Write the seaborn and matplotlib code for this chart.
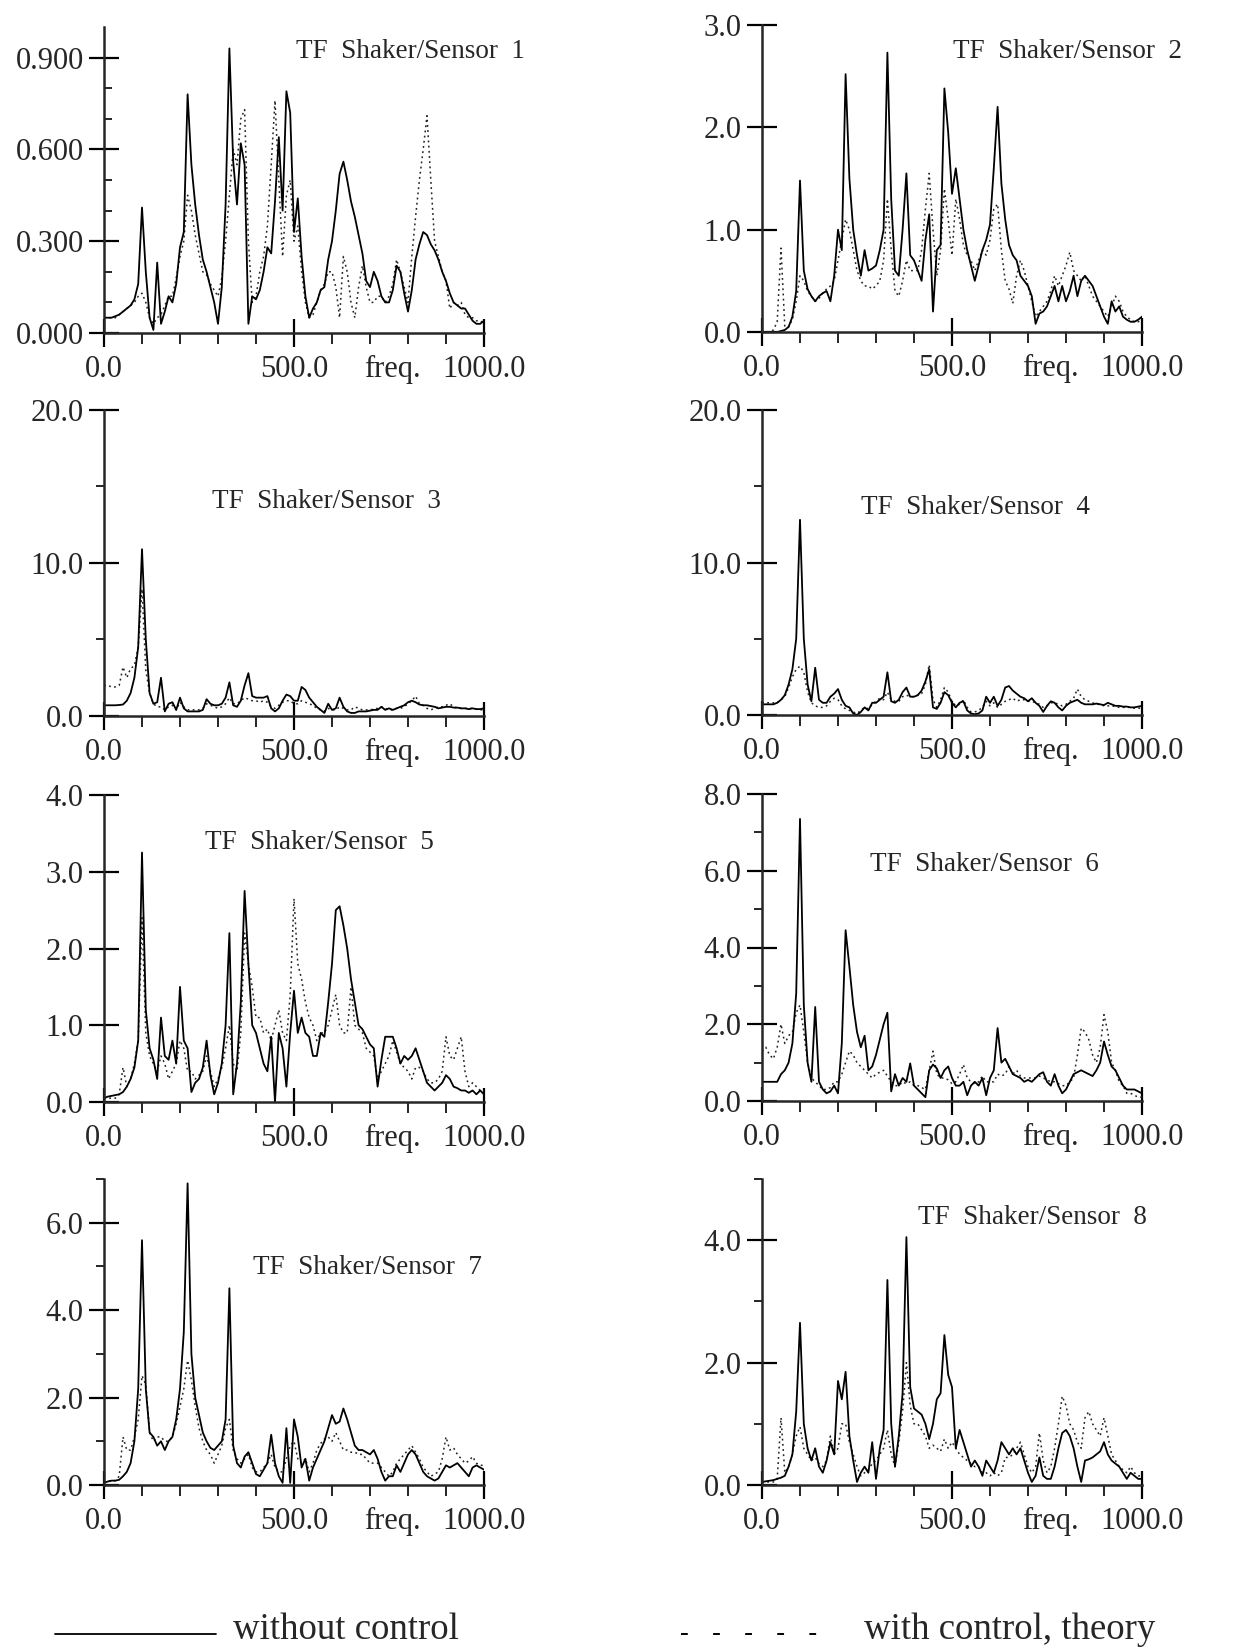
import matplotlib
matplotlib.use("Agg")
import matplotlib.pyplot as plt
import seaborn as sns
import pandas as pd
from matplotlib.lines import Line2D
from matplotlib.ticker import FixedLocator

# ---------------- data (frequency grid in Hz, 10 Hz steps) ----------------
FREQ = list(range(0, 1001, 10))

S1 = [0.05, 0.05, 0.05, 0.055, 0.06, 0.07, 0.08, 0.09, 0.11, 0.16,
      0.41, 0.2, 0.05, 0.01, 0.23, 0.03, 0.07, 0.12, 0.1, 0.16,
      0.28, 0.33, 0.78, 0.55, 0.42, 0.32, 0.24, 0.2, 0.15, 0.1,
      0.03, 0.15, 0.42, 0.93, 0.56, 0.42, 0.62, 0.55, 0.03, 0.12,
      0.11, 0.14, 0.2, 0.28, 0.26, 0.43, 0.64, 0.4, 0.79, 0.72,
      0.33, 0.44, 0.25, 0.12, 0.05, 0.08, 0.1, 0.14, 0.15, 0.24,
      0.3, 0.4, 0.52, 0.56, 0.5, 0.43, 0.38, 0.32, 0.26, 0.17,
      0.15, 0.2, 0.17, 0.12, 0.1, 0.1, 0.14, 0.22, 0.2, 0.13,
      0.07, 0.14, 0.24, 0.29, 0.33, 0.32, 0.29, 0.27, 0.24, 0.2,
      0.17, 0.13, 0.1, 0.09, 0.08, 0.08, 0.06, 0.04, 0.03, 0.03,
      0.04]
C1 = [0.05, 0.05, 0.05, 0.05, 0.06, 0.07, 0.08, 0.09, 0.1, 0.12,
      0.13, 0.1, 0.05, 0.03, 0.05, 0.06, 0.09, 0.12, 0.12, 0.18,
      0.25, 0.3, 0.45, 0.4, 0.32, 0.26, 0.2, 0.19, 0.16, 0.14,
      0.12, 0.18, 0.3, 0.45, 0.6, 0.55, 0.7, 0.73, 0.3, 0.1,
      0.12, 0.2, 0.25, 0.35, 0.55, 0.76, 0.5, 0.25, 0.45, 0.5,
      0.3, 0.35, 0.2, 0.1, 0.05, 0.06, 0.1, 0.14, 0.16, 0.2,
      0.2, 0.15, 0.05, 0.25, 0.2, 0.1, 0.05, 0.15, 0.22, 0.15,
      0.1, 0.1, 0.12, 0.12, 0.1, 0.12, 0.16, 0.24, 0.2, 0.15,
      0.1, 0.25, 0.38, 0.5, 0.6, 0.71, 0.5, 0.3, 0.25, 0.2,
      0.17, 0.08, 0.1, 0.09, 0.1, 0.06, 0.05, 0.05, 0.04, 0.04,
      0.03]

S2 = [0.0, 0.0, 0.0, 0.0, 0.0, 0.01, 0.02, 0.05, 0.15, 0.4,
      1.48, 0.6, 0.42, 0.35, 0.3, 0.35, 0.38, 0.4, 0.3, 0.55,
      1.0, 0.8, 2.52, 1.5, 1.0, 0.75, 0.55, 0.8, 0.6, 0.62,
      0.65, 0.8, 1.0, 2.73, 1.3, 0.6, 0.55, 1.0, 1.55, 0.75,
      0.7, 0.6, 0.5, 0.9, 1.15, 0.2, 0.8, 0.85, 2.38, 1.95,
      1.35, 1.6, 1.3, 1.0, 0.8, 0.65, 0.5, 0.65, 0.8, 0.9,
      1.05, 1.6, 2.2, 1.45, 1.1, 0.85, 0.75, 0.7, 0.55, 0.5,
      0.45, 0.35, 0.08, 0.18, 0.2, 0.25, 0.35, 0.45, 0.3, 0.45,
      0.3, 0.4, 0.55, 0.35, 0.5, 0.55, 0.5, 0.45, 0.35, 0.25,
      0.15, 0.08, 0.3, 0.2, 0.25, 0.15, 0.12, 0.1, 0.1, 0.12,
      0.15]
C2 = [0.0, 0.0, 0.0, 0.02, 0.1, 0.82, 0.05, 0.05, 0.12, 0.3,
      0.55, 0.5, 0.4, 0.35, 0.3, 0.33, 0.38, 0.42, 0.45, 0.5,
      0.7, 0.9, 1.1, 1.0, 0.8, 0.6, 0.5, 0.45, 0.45, 0.42,
      0.45, 0.5, 0.7, 1.3, 0.8, 0.4, 0.35, 0.5, 0.7, 0.6,
      0.6, 0.6, 0.8, 1.2, 1.55, 1.0, 0.55, 0.8, 1.4, 1.1,
      0.75, 1.3, 1.1, 0.85, 0.75, 0.7, 0.6, 0.7, 0.8, 0.75,
      0.9, 1.2, 1.25, 0.8, 0.5, 0.42, 0.28, 0.55, 0.7, 0.6,
      0.45, 0.3, 0.15, 0.2, 0.25, 0.3, 0.4, 0.55, 0.45, 0.55,
      0.65, 0.78, 0.6, 0.55, 0.5, 0.55, 0.45, 0.35, 0.3, 0.25,
      0.2, 0.15, 0.25, 0.35, 0.3, 0.2, 0.15, 0.12, 0.1, 0.1,
      0.12]

S3 = [0.7, 0.7, 0.7, 0.7, 0.72, 0.75, 1.0, 1.5, 2.5, 4.5,
      10.9, 5.0, 1.5, 0.8, 0.9, 2.5, 0.3, 0.8, 0.9, 0.4,
      1.2, 0.5, 0.3, 0.3, 0.3, 0.3, 0.4, 1.1, 0.8, 0.7,
      0.7, 0.8, 1.2, 2.2, 0.7, 0.6, 1.0, 2.0, 2.8, 1.3,
      1.2, 1.2, 1.2, 1.3, 0.5, 0.3, 0.5, 1.0, 1.4, 1.3,
      1.0, 1.0, 1.9, 1.7, 1.2, 0.9, 0.6, 0.4, 0.2, 0.8,
      0.4, 0.5, 1.2, 0.6, 0.3, 0.2, 0.2, 0.3, 0.3, 0.3,
      0.35, 0.4, 0.4, 0.6, 0.4, 0.5, 0.4, 0.5, 0.6, 0.7,
      0.9, 1.0, 0.9, 0.75, 0.7, 0.7, 0.65, 0.6, 0.5, 0.55,
      0.6, 0.6, 0.55, 0.55, 0.5, 0.5, 0.45, 0.5, 0.45, 0.45,
      0.5]
C3 = [2.0, 2.0, 1.9, 1.9, 2.0, 3.2, 2.5, 3.1, 3.3, 4.5,
      8.3, 3.0, 1.5, 0.8, 0.6, 0.6, 0.4, 0.6, 0.7, 0.4,
      0.9, 0.6, 0.4, 0.4, 0.4, 0.4, 0.5, 0.8, 0.7, 0.6,
      0.5, 0.6, 0.8, 1.2, 0.8, 0.8, 1.0, 1.2, 1.1, 1.0,
      1.0, 0.9, 1.0, 0.9, 0.6, 0.5, 0.7, 0.9, 1.0, 1.0,
      0.8, 0.8, 1.0, 0.9, 0.8, 0.7, 0.5, 0.4, 0.3, 0.5,
      0.4, 0.4, 0.6, 0.5, 0.4, 0.4, 0.6, 0.5, 0.4, 0.4,
      0.4, 0.45, 0.5, 0.6, 0.5, 0.4, 0.4, 0.5, 0.5, 0.6,
      0.8, 1.0, 1.3, 0.8, 0.7, 0.5, 0.4, 0.5, 0.6, 0.6,
      0.7, 0.8, 0.6, 0.5, 0.5, 0.5, 0.5, 0.5, 0.45, 0.4,
      0.4]

S4 = [0.7, 0.7, 0.7, 0.7, 0.8, 1.0, 1.3, 2.0, 3.0, 5.0,
      12.8, 5.0, 2.0, 0.9, 3.1, 1.0, 0.8, 0.8, 1.2, 1.4,
      1.7, 1.0, 0.6, 0.5, 0.1, 0.0, 0.2, 0.5, 0.3, 0.8,
      0.8, 1.0, 1.2, 2.8, 0.9, 0.8, 1.0, 1.5, 1.8, 1.2,
      1.2, 1.3, 1.6, 2.2, 3.0, 0.5, 0.4, 0.8, 1.5, 1.3,
      0.8, 0.5, 0.8, 0.9, 0.3, 0.1, 0.05, 0.1, 0.3, 1.2,
      0.8, 1.2, 0.6, 1.0, 1.8, 1.9, 1.6, 1.4, 1.2, 1.1,
      0.9, 1.1, 0.8, 0.6, 0.2, 0.6, 0.9, 0.8, 0.5, 0.3,
      0.6, 0.8, 0.9, 1.0, 0.8, 0.7, 0.7, 0.7, 0.75, 0.7,
      0.65, 0.8, 0.7, 0.6, 0.6, 0.55, 0.55, 0.5, 0.5, 0.55,
      0.6]
C4 = [0.8, 0.8, 0.8, 0.8, 0.8, 1.0, 1.2, 1.8, 2.5, 3.0,
      3.2, 2.8, 1.5, 0.8, 0.6, 0.5, 0.5, 0.6, 0.9, 1.1,
      1.0, 0.6, 0.4, 0.3, 0.2, 0.1, 0.3, 0.5, 0.4, 0.7,
      0.9, 1.1, 1.0, 1.5, 1.0, 0.9, 0.9, 1.2, 1.3, 1.2,
      1.2, 1.3, 1.4, 2.0, 3.3, 1.0, 0.5, 1.0, 1.8, 1.5,
      0.9, 0.6, 0.7, 1.0, 0.5, 0.2, 0.2, 0.3, 0.5, 0.9,
      0.6, 0.8, 0.5, 0.7, 0.9, 1.0, 1.1, 0.9, 1.0, 1.0,
      0.9, 0.9, 0.8, 0.7, 0.5, 0.6, 0.8, 0.8, 0.7, 0.6,
      0.7, 0.9, 1.1, 1.7, 1.2, 1.0, 0.9, 0.8, 0.7, 0.7,
      0.6, 0.6, 0.6, 0.55, 0.5, 0.5, 0.5, 0.5, 0.45, 0.45,
      0.45]

S5 = [0.05, 0.07, 0.08, 0.09, 0.1, 0.13, 0.2, 0.3, 0.45, 0.8,
      3.25, 1.2, 0.7, 0.55, 0.3, 1.1, 0.6, 0.55, 0.8, 0.5,
      1.5, 0.8, 0.7, 0.13, 0.25, 0.3, 0.45, 0.8, 0.35, 0.1,
      0.25, 0.5, 1.0, 2.2, 0.1, 0.5, 1.3, 2.75, 1.8, 1.0,
      0.9, 0.7, 0.5, 0.4, 0.85, 0.0, 0.9, 0.7, 0.2, 0.9,
      1.45, 0.9, 1.1, 0.9, 0.85, 0.6, 0.6, 0.9, 0.85, 1.3,
      1.8, 2.5, 2.55, 2.3, 2.0, 1.6, 1.3, 1.0, 0.95, 0.85,
      0.75, 0.7, 0.2, 0.55, 0.85, 0.85, 0.85, 0.7, 0.5, 0.6,
      0.55, 0.6, 0.7, 0.55, 0.4, 0.25, 0.2, 0.15, 0.2, 0.25,
      0.35, 0.3, 0.2, 0.18, 0.15, 0.15, 0.12, 0.15, 0.1, 0.15,
      0.1]
C5 = [0.05, 0.05, 0.05, 0.05, 0.1, 0.45, 0.2, 0.3, 0.5, 0.8,
      2.4, 0.9, 0.6, 0.5, 0.4, 0.6, 0.5, 0.3, 0.4, 0.5,
      0.8, 0.7, 0.4, 0.4, 0.3, 0.35, 0.4, 0.6, 0.4, 0.2,
      0.3, 0.45, 0.7, 1.0, 0.5, 0.4, 0.9, 2.2, 1.8, 1.5,
      1.1, 1.1, 0.9, 0.95, 0.8, 1.0, 1.2, 0.9, 0.8, 1.4,
      2.65, 1.8, 1.6, 1.3, 1.1, 1.0, 0.8, 0.9, 0.9, 1.0,
      1.2, 1.4, 1.0, 0.9, 0.9, 1.5, 1.0, 0.95, 0.9, 0.7,
      0.65, 0.6, 0.3, 0.4, 0.5, 0.6, 0.8, 0.65, 0.5, 0.45,
      0.4, 0.3, 0.45, 0.45, 0.4, 0.3, 0.25, 0.25, 0.3, 0.4,
      0.85, 0.6, 0.55, 0.7, 0.85, 0.4, 0.2, 0.25, 0.2, 0.15,
      0.15]

S6 = [0.5, 0.5, 0.5, 0.5, 0.5, 0.7, 0.8, 1.0, 1.5, 2.8,
      7.35, 2.5, 1.0, 0.5, 2.45, 0.5, 0.3, 0.2, 0.25, 0.4,
      0.2, 1.5, 4.45, 3.5, 2.5, 1.8, 1.4, 1.7, 0.8, 0.9,
      1.2, 1.6, 2.0, 2.3, 0.25, 0.7, 0.4, 0.6, 0.5, 0.98,
      0.4, 0.3, 0.2, 0.1, 0.8, 0.95, 0.85, 0.6, 0.8, 0.9,
      0.6, 0.4, 0.4, 0.5, 0.15, 0.4, 0.5, 0.4, 0.6, 0.15,
      0.6, 0.8, 1.9, 1.0, 1.1, 0.9, 0.7, 0.65, 0.6, 0.5,
      0.55, 0.5, 0.6, 0.7, 0.75, 0.5, 0.4, 0.7, 0.4, 0.2,
      0.3, 0.5, 0.7, 0.75, 0.8, 0.75, 0.7, 0.65, 0.8, 1.0,
      1.55, 1.2, 0.9, 0.8, 0.6, 0.4, 0.3, 0.3, 0.3, 0.25,
      0.2]
C6 = [1.3, 1.4, 1.2, 1.1, 1.4, 2.0, 1.5, 1.7, 1.8, 2.3,
      2.5, 1.8, 1.0, 0.6, 0.5, 0.4, 0.3, 0.3, 0.35, 0.5,
      0.5, 0.7, 1.0, 1.3, 1.2, 1.0, 0.9, 0.8, 0.7, 0.6,
      0.7, 0.75, 0.8, 0.65, 0.5, 0.4, 0.4, 0.5, 0.45, 0.5,
      0.4, 0.4, 0.35, 0.3, 0.8, 1.3, 0.7, 0.6, 0.6, 0.55,
      0.45, 0.5, 0.7, 0.95, 0.6, 0.5, 0.45, 0.5, 0.65, 0.5,
      0.5, 0.5, 0.7, 0.65, 0.7, 0.9, 0.7, 0.8, 0.65, 0.6,
      0.6, 0.6, 0.6, 0.65, 0.6, 0.55, 0.5, 0.5, 0.45, 0.4,
      0.4, 0.5, 0.6, 1.2, 1.9, 1.8, 1.6, 1.2, 1.0, 1.4,
      2.25, 1.8, 1.0, 0.8, 0.5, 0.4, 0.2, 0.2, 0.15, 0.1,
      0.1]

S7 = [0.05, 0.08, 0.1, 0.1, 0.12, 0.2, 0.3, 0.5, 1.0, 2.2,
      5.6, 2.2, 1.2, 1.1, 0.9, 1.0, 0.8, 1.0, 1.1, 1.5,
      2.2, 3.5, 6.9, 3.0, 2.0, 1.6, 1.2, 1.0, 0.85, 0.8,
      0.9, 1.0, 1.5, 4.5, 0.9, 0.5, 0.4, 0.65, 0.75, 0.5,
      0.25, 0.2, 0.35, 0.5, 1.15, 0.5, 0.2, 0.05, 1.3, 0.05,
      1.5, 1.1, 0.4, 0.6, 0.1, 0.4, 0.6, 0.8, 1.0, 1.3,
      1.6, 1.4, 1.45, 1.75, 1.5, 1.2, 0.9, 0.8, 0.8, 0.75,
      0.7, 0.8, 0.6, 0.3, 0.1, 0.2, 0.2, 0.45, 0.3, 0.5,
      0.7, 0.8, 0.7, 0.5, 0.3, 0.2, 0.15, 0.1, 0.15, 0.3,
      0.45, 0.4, 0.45, 0.5, 0.4, 0.3, 0.2, 0.4, 0.45, 0.4,
      0.35]
C7 = [0.05, 0.08, 0.1, 0.1, 0.2, 1.1, 0.8, 0.8, 1.1, 1.5,
      2.5, 2.3, 1.2, 1.0, 1.1, 1.1, 1.0, 1.0, 1.1, 1.4,
      1.8, 2.2, 2.85, 2.4, 1.8, 1.3, 1.0, 0.8, 0.7, 0.5,
      0.7, 0.9, 1.3, 1.5, 0.8, 0.6, 0.5, 0.6, 0.7, 0.4,
      0.3, 0.3, 0.4, 0.5, 0.7, 0.4, 0.3, 0.3, 0.6, 0.9,
      1.0, 0.6, 0.5, 0.6, 0.3, 0.5, 0.8, 0.95, 1.05, 1.1,
      1.0, 1.2, 1.0, 0.8, 0.8, 0.75, 0.75, 0.7, 0.7, 0.6,
      0.5, 0.5, 0.5, 0.4, 0.3, 0.2, 0.3, 0.5, 0.6, 0.7,
      0.8, 0.9, 0.75, 0.6, 0.4, 0.3, 0.2, 0.25, 0.3, 0.6,
      1.1, 0.8, 0.85, 0.7, 0.6, 0.5, 0.55, 0.65, 0.5, 0.45,
      0.45]

S8 = [0.05, 0.06, 0.07, 0.08, 0.1, 0.12, 0.15, 0.3, 0.5, 1.2,
      2.65, 1.0, 0.6, 0.4, 0.6, 0.3, 0.2, 0.4, 0.7, 0.5,
      1.7, 1.4, 1.85, 0.8, 0.4, 0.05, 0.2, 0.3, 0.2, 0.7,
      0.1, 0.6, 0.9, 3.35, 1.0, 0.3, 0.8, 1.5, 4.05, 1.6,
      1.25, 1.2, 1.15, 1.0, 0.75, 1.0, 1.4, 1.5, 2.45, 1.8,
      1.6, 0.6, 0.9, 0.7, 0.5, 0.3, 0.4, 0.3, 0.15, 0.4,
      0.3, 0.2, 0.4, 0.7, 0.6, 0.5, 0.6, 0.5, 0.6, 0.4,
      0.2, 0.05, 0.15, 0.45, 0.15, 0.1, 0.1, 0.3, 0.6, 0.85,
      0.9, 0.8, 0.6, 0.3, 0.05, 0.4, 0.42, 0.45, 0.5, 0.55,
      0.7, 0.5, 0.4, 0.35, 0.3, 0.2, 0.1, 0.2, 0.15, 0.1,
      0.1]
C8 = [0.05, 0.05, 0.05, 0.05, 0.1, 1.1, 0.2, 0.3, 0.5, 0.8,
      0.95, 0.6, 0.5, 0.4, 0.45, 0.35, 0.3, 0.4, 0.8, 0.5,
      0.6, 1.0, 1.0, 0.7, 0.5, 0.3, 0.15, 0.2, 0.25, 0.35,
      0.4, 0.5, 0.6, 0.9, 0.5, 0.3, 0.7, 1.2, 2.0, 1.3,
      1.0, 1.0, 0.9, 0.8, 0.6, 0.65, 0.6, 0.55, 0.75, 0.6,
      0.7, 0.6, 0.5, 0.45, 0.4, 0.35, 0.3, 0.3, 0.2, 0.2,
      0.15, 0.2, 0.15, 0.2, 0.45, 0.45, 0.5, 0.6, 0.7, 0.5,
      0.3, 0.2, 0.3, 0.85, 0.4, 0.2, 0.3, 0.6, 1.0, 1.45,
      1.3, 1.0, 0.9, 0.7, 0.6, 1.1, 1.2, 1.0, 0.9, 0.8,
      1.1, 0.8, 0.5, 0.4, 0.3, 0.25, 0.2, 0.3, 0.2, 0.15,
      0.15]

TITLES = ["TF  Shaker/Sensor  1", "TF  Shaker/Sensor  2", "TF  Shaker/Sensor  3",
          "TF  Shaker/Sensor  4", "TF  Shaker/Sensor  5", "TF  Shaker/Sensor  6",
          "TF  Shaker/Sensor  7", "TF  Shaker/Sensor  8"]
X_TICKS = [0, 500, 1000]
X_TICK_LABELS = ["0.0", "500.0", "1000.0"]
X_LABEL = "freq."
LEGEND_LABELS = ["without control", "with control, theory"]

# ---------------- style ----------------
sns.set_style("ticks")
plt.rcParams['font.family'] = ['Liberation Serif', 'DejaVu Serif']

W, H = 1233, 1648
fig = plt.figure(figsize=(W / 100, H / 100), dpi=100)

# layout per panel: axes box in pixels (left, top, right, bottom), title anchor
PANELS = [
    dict(s=S1, c=C1, ymax=1.0, major=[0, 0.3, 0.6, 0.9], fmt="{:.3f}",
         minor=[0.1, 0.2, 0.4, 0.5, 0.7, 0.8], mdir='in',
         box=(104, 27, 484, 333), tpos=(296, 52)),
    dict(s=S2, c=C2, ymax=3.0, major=[0, 1, 2, 3], fmt="{:.1f}",
         minor=[], mdir='out', box=(762, 25, 1142, 332), tpos=(953, 52)),
    dict(s=S3, c=C3, ymax=20.0, major=[0, 10, 20], fmt="{:.1f}",
         minor=[5, 15], mdir='out', box=(104, 410, 484, 716), tpos=(212, 501)),
    dict(s=S4, c=C4, ymax=20.0, major=[0, 10, 20], fmt="{:.1f}",
         minor=[5, 15], mdir='out', box=(762, 410, 1142, 715), tpos=(861, 507)),
    dict(s=S5, c=C5, ymax=4.0, major=[0, 1, 2, 3, 4], fmt="{:.1f}",
         minor=[], mdir='out', box=(104, 795, 484, 1102), tpos=(205, 842)),
    dict(s=S6, c=C6, ymax=8.0, major=[0, 2, 4, 6, 8], fmt="{:.1f}",
         minor=[1, 3, 5, 7], mdir='out', box=(762, 794, 1142, 1101), tpos=(870, 865)),
    dict(s=S7, c=C7, ymax=7.0, major=[0, 2, 4, 6], fmt="{:.1f}",
         minor=[1, 3, 5, 7], mdir='out', box=(104, 1179, 484, 1485), tpos=(253, 1267)),
    dict(s=S8, c=C8, ymax=5.0, major=[0, 2, 4], fmt="{:.1f}",
         minor=[1, 3, 5], mdir='out', box=(762, 1179, 1142, 1485), tpos=(918, 1217)),
]

TICK_FS = 22
TITLE_FS = 19.5
X_MAJ_LEN = 20
X_PAD = 6

for i, p in enumerate(PANELS):
    l, t, r, b = p['box']
    ax = fig.add_axes([l / W, 1 - b / H, (r - l) / W, (b - t) / H])
    df = pd.DataFrame({"freq": FREQ, "without": p['s'], "with": p['c']})
    sns.lineplot(data=df, x="freq", y="with", ax=ax, color="#222222",
                 linewidth=1.1, estimator=None, sort=False)
    ax.lines[-1].set_linestyle((0, (1.2, 2.2)))
    sns.lineplot(data=df, x="freq", y="without", ax=ax, color="black",
                 linewidth=1.3, estimator=None, sort=False)

    ax.set_xlim(0, 1000)
    ax.set_ylim(0, p['ymax'])
    ax.set_xlabel("")
    ax.set_ylabel("")
    for side in ("top", "right"):
        ax.spines[side].set_visible(False)
    for side in ("left", "bottom"):
        ax.spines[side].set_linewidth(1.8)

    ax.yaxis.set_major_locator(FixedLocator(p['major']))
    ax.set_yticklabels([p['fmt'].format(v) for v in p['major']])
    ax.yaxis.set_minor_locator(FixedLocator(p['minor']))
    ax.xaxis.set_major_locator(FixedLocator(X_TICKS))
    ax.set_xticklabels(X_TICK_LABELS)
    ax.xaxis.set_minor_locator(FixedLocator([100, 200, 300, 400, 600, 700, 800, 900]))

    ax.tick_params(axis='y', which='major', direction='inout', length=21,
                   width=1.6, pad=4, labelsize=TICK_FS, color='black')
    ax.tick_params(axis='y', which='minor', direction=p['mdir'], length=6,
                   width=1.2, color='black')
    ax.tick_params(axis='x', which='major', direction='inout', length=X_MAJ_LEN,
                   width=1.6, pad=X_PAD, labelsize=TICK_FS, color='black')
    ax.tick_params(axis='x', which='minor', direction='out', length=8,
                   width=1.2, color='black')

    ax.annotate(X_LABEL, xy=(760, 0), xycoords=('data', 'axes fraction'),
                xytext=(0, -(X_MAJ_LEN / 2 + X_PAD)), textcoords='offset points',
                ha='center', va='top', fontsize=TICK_FS)

    tx, ty = p['tpos']
    fig.text(tx / W, 1 - ty / H, TITLES[i], ha='left', va='center',
             fontsize=TITLE_FS)

# legend at the bottom
fig.add_artist(Line2D([55 / W, 216 / W], [1 - 1634 / H] * 2, color='black', lw=1.3))
fig.text(233 / W, 1 - 1630 / H, LEGEND_LABELS[0], ha='left', va='center', fontsize=26.5)
fig.add_artist(Line2D([681 / W, 836 / W], [1 - 1634 / H] * 2, color='black', lw=1.4,
                      linestyle=(0, (3.5, 13))))
fig.text(864 / W, 1 - 1630 / H, LEGEND_LABELS[1], ha='left', va='center', fontsize=26.5)

fig.savefig("out.png", dpi=100)
